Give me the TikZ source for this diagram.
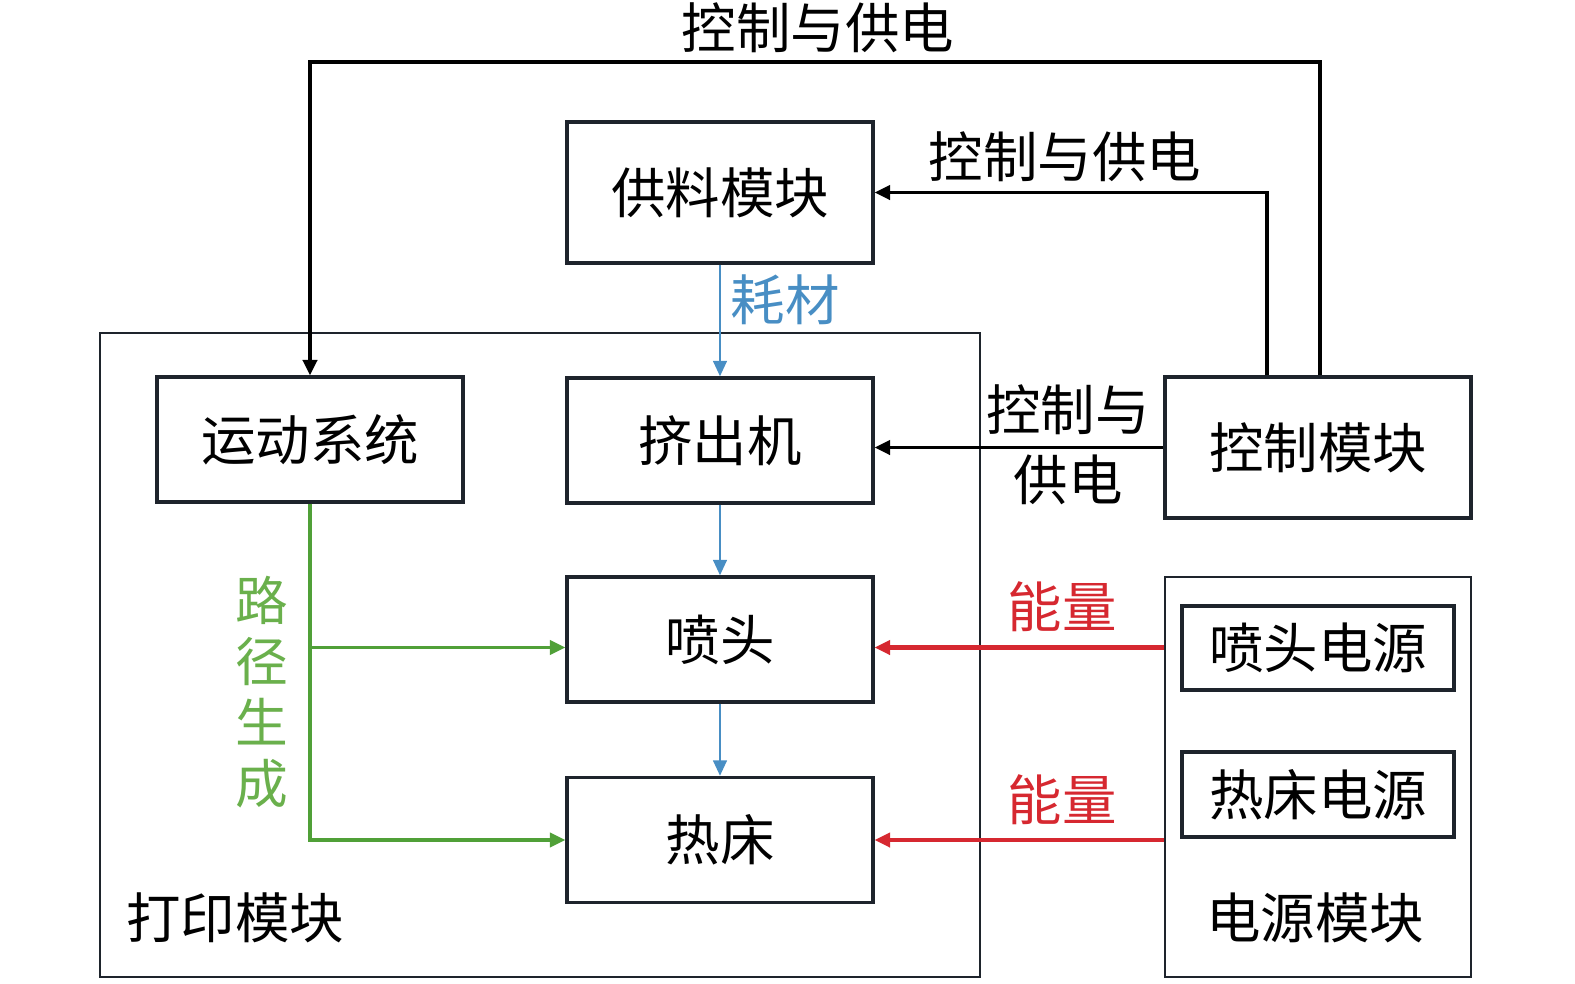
\documentclass[tikz,border=0pt]{standalone}
\usepackage{fontspec}
\newfontfamily\cjk{Noto Sans CJK SC}
\usetikzlibrary{positioning,arrows.meta,calc}
\definecolor{flowblue}{RGB}{72,142,196}
\definecolor{pathgreen}{RGB}{80,160,56}
\definecolor{pathtext}{RGB}{106,176,76}
\definecolor{powerred}{RGB}{214,40,48}
\definecolor{edge}{RGB}{30,36,44}

\tikzset{
	txt/.style={font=\cjk\fontsize{15.5pt}{19.9pt}\selectfont, inner sep=0pt, align=center},
	blk/.style={txt, draw=edge, line width=0.9pt, minimum width=3.06cm, minimum height=1.25cm},
	frame/.style={draw=edge, line width=0.8pt, inner sep=0pt},
	ctl/.style={draw=black, line width=1.1pt, -{Triangle[length=4.4pt,width=4pt]}},
	feedflow/.style={draw=flowblue, line width=0.85pt, -{Triangle[length=4.4pt,width=3.8pt]}},
	pathflow/.style={draw=pathgreen, line width=1pt, -{Triangle[length=4.4pt,width=4pt]}},
	powerflow/.style={draw=powerred, line width=1.3pt, -{Triangle[length=4.4pt,width=4pt]}},
}

\begin{document}
\begin{tikzpicture}
	\useasboundingbox (0,0) rectangle (15.75,-9.84);
	%
	\node[frame, minimum width=8.80cm, minimum height=6.44cm] (print) at (5.40,-6.55) {};
	\node[frame, minimum width=3.06cm, minimum height=4.00cm] (power) at (13.18,-7.77) {};
	%
	\node[blk, minimum height=1.41cm] (feed) at (7.20,-1.925) {供料模块};
	\node[blk] (extruder) at (7.20,-4.405) {挤出机};
	\node[blk] (nozzle) at (7.20,-6.395) {喷头};
	\node[blk] (bed) at (7.20,-8.40) {热床};
	\node[blk] (motion) at (3.10,-4.395) {运动系统};
	\node[blk, minimum height=1.41cm] (ctrl) at (13.18,-4.475) {控制模块};
	\node[blk, minimum width=2.72cm, minimum height=0.84cm] (nozzlepwr) at (13.18,-6.48) {喷头电源};
	\node[blk, minimum width=2.72cm, minimum height=0.85cm] (bedpwr) at (13.18,-7.945) {热床电源};
	%
	\node[txt] (printlbl) at (2.35,-9.18) {打印模块};
	\node[txt] (powerlbl) at (13.15,-9.18) {电源模块};
	%
	\coordinate (topbus) at (13.20,-0.62);
	\coordinate (feedtap) at (12.67,-1.925);
	\coordinate (nozzlein) at ($(nozzle.west)+(0,-0.08)$);
	\coordinate (nozzlepin) at ($(nozzle.east)+(0,-0.08)$);
	%
	\draw[ctl] (ctrl.north -| topbus) -- (topbus) -| (motion.north);
	\draw[ctl] (ctrl.north -| feedtap) -- (feedtap) -- (feed.east);
	\draw[ctl] (ctrl.west) -- (ctrl.west -| extruder.east);
	\draw[feedflow] (feed.south) -- (extruder.north);
	\draw[feedflow] (extruder.south) -- (nozzle.north);
	\draw[feedflow] (nozzle.south) -- (bed.north);
	\draw[pathflow] (motion.south) |- (bed.west);
	\draw[pathflow] (motion.south |- nozzlein) -- (nozzlein);
	\draw[powerflow] (nozzlepin -| power.west) -- (nozzlepin);
	\draw[powerflow] (bed.east -| power.west) -- (bed.east);
	%
	\node[txt] (toplbl) at (8.18,-0.28) {控制与供电};
	\node[txt] (feedlbl) at (10.65,-1.57) {控制与供电};
	\node[txt] (extlbl) at (10.68,-4.45) {控制与\\供电};
	\node[txt, text=flowblue] (matlbl) at (7.85,-3.00) {耗材};
	\node[txt, text=pathtext, font=\cjk\fontsize{15pt}{17.4pt}\selectfont] (pathlbl) at (2.62,-6.92) {路\\径\\生\\成};
	\node[txt, text=powerred] (energy1) at (10.62,-6.07) {能量};
	\node[txt, text=powerred] (energy2) at (10.62,-8.00) {能量};
\end{tikzpicture}
\end{document}
